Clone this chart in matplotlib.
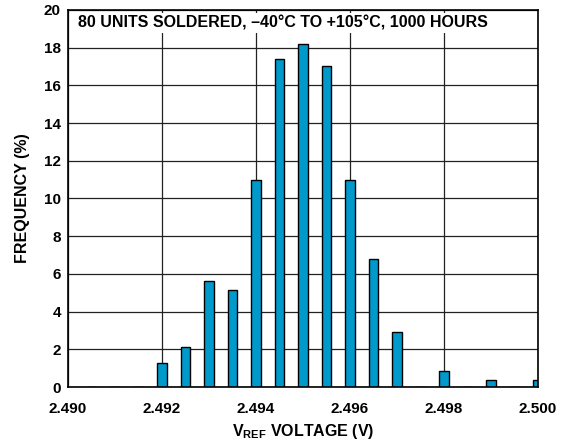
import matplotlib.pyplot as plt

plt.rcParams['font.family'] = ['Liberation Sans', 'DejaVu Sans']
plt.rcParams['font.weight'] = 'bold'
plt.rcParams['mathtext.fontset'] = 'custom'
plt.rcParams['mathtext.rm'] = 'Liberation Sans:bold'
plt.rcParams['mathtext.bf'] = 'Liberation Sans:bold'

voltage = [2.4905, 2.491, 2.4915, 2.492, 2.4925, 2.493, 2.4935, 2.494, 2.4945, 2.495,
           2.4955, 2.496, 2.4965, 2.497, 2.4975, 2.498, 2.4985, 2.499, 2.4995, 2.500]
frequency = [0, 0, 0, 1.25, 2.1, 5.6, 5.15, 11.0, 17.4, 18.2,
             17.0, 11.0, 6.8, 2.9, 0, 0.85, 0, 0.4, 0, 0.4]

fig = plt.figure(figsize=(5.7, 4.48), dpi=100)
ax = fig.add_axes([0.119, 0.136, 0.825, 0.842])

ax.bar(voltage, frequency, width=0.0002, color='#0099cc', edgecolor='black',
       linewidth=1.0, zorder=3)

ax.set_xlim(2.490, 2.500)
ax.set_ylim(0, 20)
ax.set_xticks([2.490, 2.492, 2.494, 2.496, 2.498, 2.500])
ax.set_xticklabels(['2.490', '2.492', '2.494', '2.496', '2.498', '2.500'])
ax.set_yticks(range(0, 21, 2))
ax.tick_params(length=0, labelsize=11)
ax.tick_params(axis='x', pad=11)
ax.tick_params(axis='y', pad=5)
for lab in ax.get_xticklabels() + ax.get_yticklabels():
    lab.set_fontweight('bold')
ax.grid(color='#222222', linewidth=0.9, zorder=0)
for s in ax.spines.values():
    s.set_linewidth(1.2)
    s.set_zorder(4)

ax.set_xlabel(r'V$_{\mathrm{REF}}$ VOLTAGE (V)', fontsize=11.5, fontweight='bold', labelpad=4)
ax.set_ylabel('FREQUENCY (%)', fontsize=11.5, fontweight='bold', labelpad=10)

ax.text(0.022, 0.985, '80 UNITS SOLDERED, \u201340°C TO +105°C, 1000 HOURS',
        transform=ax.transAxes, ha='left', va='top', fontsize=11.5, fontweight='bold',
        bbox=dict(facecolor='white', edgecolor='none', pad=2), zorder=5)

fig.savefig('out.png', dpi=100)
